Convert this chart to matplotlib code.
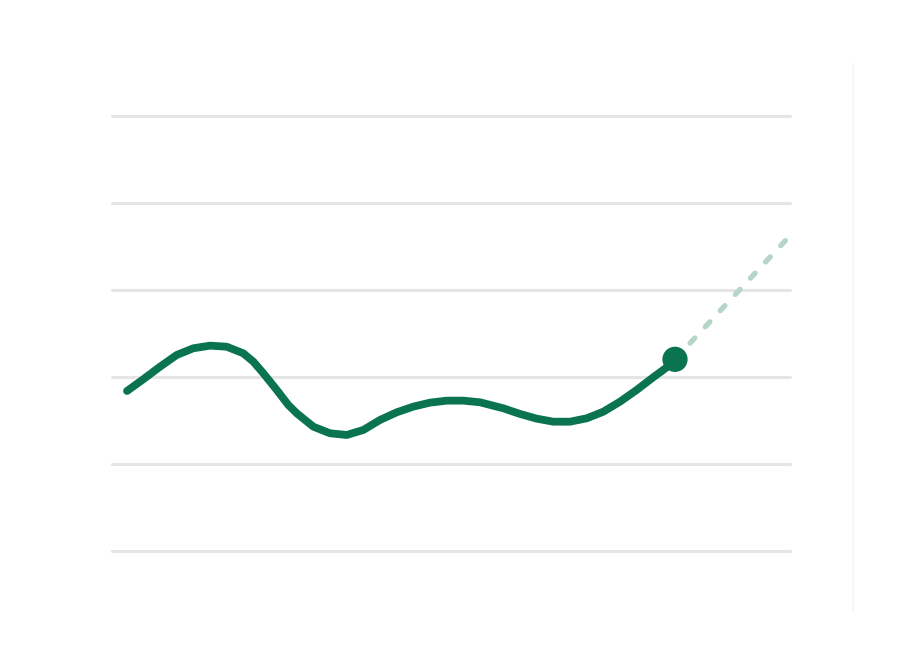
import matplotlib.pyplot as plt

# main series, y in grid steps
x_actual = [0.0, 0.297, 0.602, 0.907, 1.210, 1.515, 1.819, 2.122, 2.305, 2.487,
            2.732, 2.944, 3.097, 3.400, 3.704, 4.009, 4.312, 4.617, 4.922, 5.224,
            5.529, 5.834, 6.137, 6.442, 6.867, 7.172, 7.476, 7.779, 8.084, 8.389,
            8.692, 8.996, 9.301, 9.604, 9.909, 10.0]
y_actual = [1.839, 1.974, 2.118, 2.253, 2.330, 2.360, 2.348, 2.272, 2.176, 2.043,
            1.851, 1.678, 1.583, 1.429, 1.353, 1.333, 1.391, 1.506, 1.594, 1.659,
            1.705, 1.728, 1.728, 1.709, 1.640, 1.575, 1.521, 1.486, 1.486, 1.525,
            1.601, 1.716, 1.851, 1.997, 2.138, 2.203]

# projected part
x_proj = [10.0, 12.06]
y_proj = [2.203, 3.598]

grid_levels = [0, 1, 2, 3, 4, 5]

green = "#0a7350"
light_green = "#b5d5c6"

fig = plt.figure(figsize=(9, 6.66), dpi=100)
ax = fig.add_axes([0, 0, 1, 1])
ax.set_xlim(-2.318, 14.106)
ax.set_ylim(-1.322, 6.333)
ax.axis("off")

for g in grid_levels:
    ax.plot([-0.27, 12.1], [g, g], color="#e5e5e5", lw=2.2,
            solid_capstyle="round", zorder=1)

# faint card edge on the right
ax.plot([13.25, 13.25], [-0.70, 5.60], color="#f5f5f5", lw=1.2, zorder=0)

ax.plot(x_proj, y_proj, color=light_green, lw=3.8, linestyle=(0, (1.3, 2.9)),
        dash_capstyle="round", zorder=2)

ax.plot(x_actual, y_actual, color=green, lw=5.6, solid_capstyle="round",
        solid_joinstyle="round", zorder=3)

ax.scatter([x_actual[-1]], [y_actual[-1]], s=330, color=green, zorder=4,
           edgecolors="none")

plt.savefig("out.png", dpi=100, facecolor="white")
